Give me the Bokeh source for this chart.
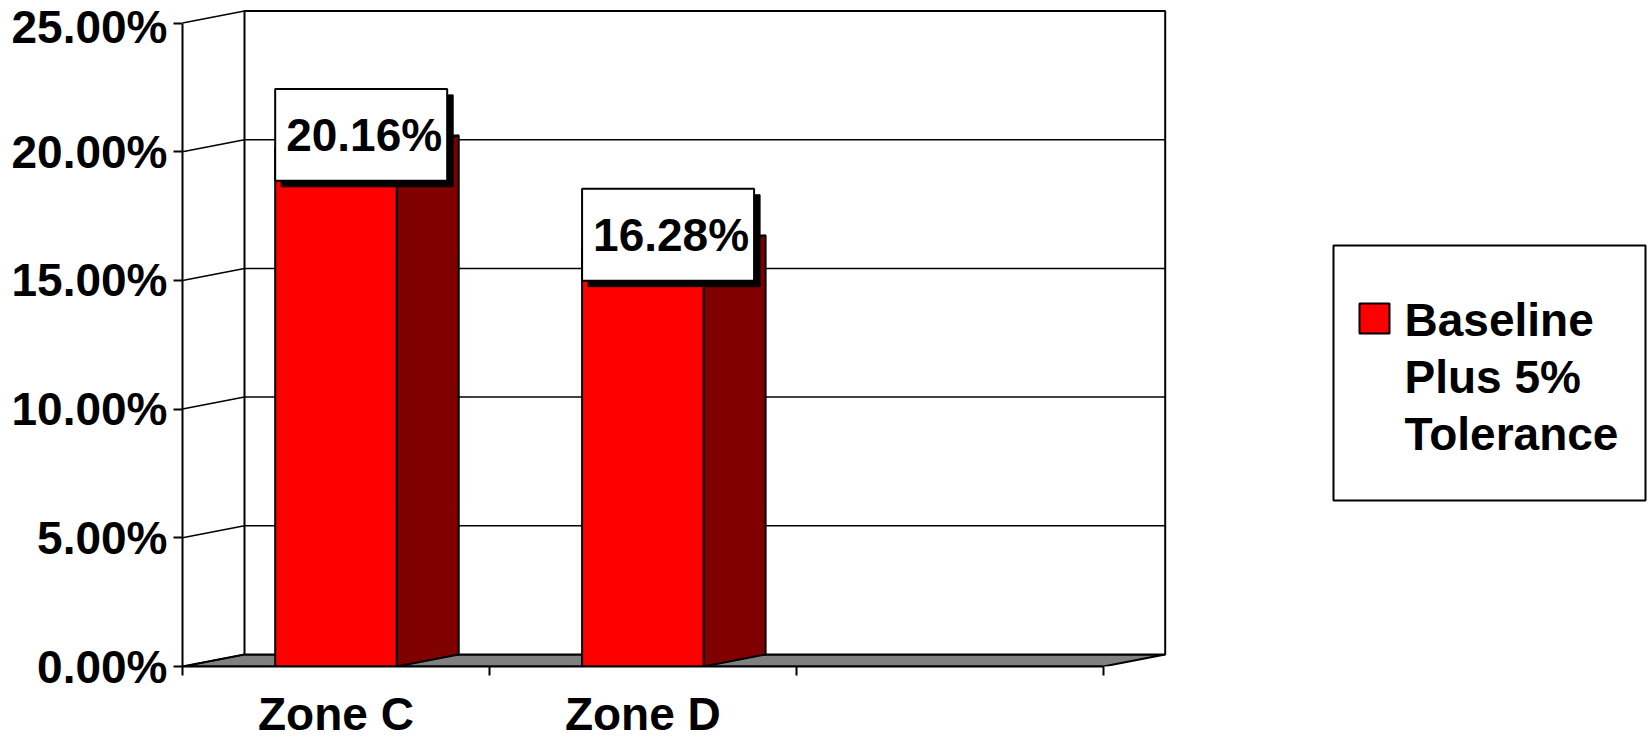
from bokeh.plotting import figure
from bokeh.models import Range1d, FixedTicker, PrintfTickFormatter, ColumnDataSource
from bokeh.core.properties import value
from bokeh.embed import file_html
from bokeh.resources import INLINE

# ---- data -------------------------------------------------------------
categories = ["Zone C", "Zone D", ""]
values = [20.16, 16.28]
series_lines = ["Baseline", "Plus 5%", "Tolerance"]
y_ticks = [0, 5, 10, 15, 20, 25]

# ---- layout constants -------------------------------------------------
FONT = "Liberation Sans"
FS = "46px"
W, H = 1648, 742
LEFT, TOP, BOTTOM = 182, 9, 76
X_PX = 306.9          # pixels per category slot
Y_PX = 25.74          # pixels per percentage point
x_end = (W - LEFT) / X_PX
y_end = (H - TOP - BOTTOM) / Y_PX
DX = 62 / X_PX        # depth offset of the 3-D box (x)
DY = 12 / Y_PX        # depth offset of the 3-D box (y)
BAR_W = 0.396
n = len(categories)


def px_x(px):
    return (px - LEFT) / X_PX


def px_y(py):
    return (H - BOTTOM - py) / Y_PX


p = figure(width=W, height=H, x_range=Range1d(0, x_end), y_range=Range1d(0, y_end),
           output_backend="svg", toolbar_location=None,
           min_border_left=LEFT, min_border_right=0, min_border_top=TOP,
           min_border_bottom=BOTTOM)
p.grid.visible = False
p.outline_line_color = None
p.background_fill_color = "white"

# ---- value axis (front edge) -----------------------------------------
ya = p.yaxis[0]
ya.ticker = FixedTicker(ticks=y_ticks)
ya.formatter = PrintfTickFormatter(format="%.2f%%")
ya.bounds = (0, 25)
ya.axis_line_width = 2
ya.major_tick_line_width = 2
ya.major_tick_out = 9
ya.major_tick_in = 0
ya.minor_tick_out = 0
ya.minor_tick_in = 0
ya.major_label_standoff = 6
ya.major_label_text_font = FONT
ya.major_label_text_font_style = "bold"
ya.major_label_text_font_size = FS
ya.major_label_text_color = "black"

# ---- category axis ----------------------------------------------------
centers = [i + 0.5 for i in range(n)]
xa = p.xaxis[0]
xa.ticker = FixedTicker(ticks=centers, minor_ticks=list(range(n + 1)))
xa.major_label_overrides = {c: lab for c, lab in zip(centers, categories)}
xa.bounds = (0, n)
xa.axis_line_width = 2
xa.major_tick_out = 0
xa.major_tick_in = 0
xa.minor_tick_out = 9
xa.minor_tick_in = 0
xa.minor_tick_line_width = 2
xa.minor_tick_line_color = "black"
xa.major_label_standoff = 12
xa.major_label_text_font = FONT
xa.major_label_text_font_style = "bold"
xa.major_label_text_font_size = FS
xa.major_label_text_color = "black"

# ---- floor, back wall, gridlines -------------------------------------
p.patch(x=[0, n, n + DX, DX], y=[0, 0, DY, DY], fill_color="#808080",
        line_color="black", line_width=2)
p.quad(left=[DX], right=[n + DX], bottom=[DY], top=[25 + DY],
       fill_color="white", line_color="black", line_width=2)
grid = [t for t in y_ticks if 0 < t < 25]
p.segment(x0=[DX] * len(grid), y0=[t + DY for t in grid],
          x1=[n + DX] * len(grid), y1=[t + DY for t in grid],
          line_color="black", line_width=1.5)
p.segment(x0=[0] * len(y_ticks), y0=y_ticks,
          x1=[DX] * len(y_ticks), y1=[t + DY for t in y_ticks],
          line_color="black", line_width=1.5)

# ---- 3-D bars -----------------------------------------------------------
x0 = [centers[i] - BAR_W / 2 for i in range(len(values))]
x1 = [centers[i] + BAR_W / 2 for i in range(len(values))]
bars = ColumnDataSource(dict(
    left=x0, right=x1, top=values,
    side_x=[[b, b + DX, b + DX, b] for b in x1],
    side_y=[[0, DY, v + DY, v] for v in values],
    top_x=[[a, b, b + DX, a + DX] for a, b in zip(x0, x1)],
    top_y=[[v, v, v + DY, v + DY] for v in values],
))
p.patches(xs="side_x", ys="side_y", source=bars, fill_color="#800000",
          line_color="black", line_width=2)
p.patches(xs="top_x", ys="top_y", source=bars, fill_color="#c00000",
          line_color="black", line_width=2)
p.quad(left="left", right="right", bottom=0, top="top", source=bars,
       fill_color="#ff0000", line_color="black", line_width=2)

# ---- value labels ----------------------------------------------------
BOX_W = 172 / X_PX
UP, DOWN = 2.28, 1.29
SX, SY = 6 / X_PX, 6 / Y_PX
p.quad(left=[a + SX for a in x0], right=[a + BOX_W + SX for a in x0],
       bottom=[v - DOWN - SY for v in values], top=[v + UP - SY for v in values],
       fill_color="black", line_color="black")
p.quad(left=x0, right=[a + BOX_W for a in x0],
       bottom=[v - DOWN for v in values], top=[v + UP for v in values],
       fill_color="white", line_color="black", line_width=2)
p.text(x=[a + BOX_W / 2 + 3 / X_PX for a in x0], y=[v + (UP - DOWN) / 2 for v in values],
       text=[f"{v:.2f}%" for v in values], text_align="center",
       text_baseline="middle", text_font=value(FONT), text_font_style="bold",
       text_font_size=FS, text_color="black")

# ---- legend ------------------------------------------------------------
p.quad(left=[px_x(1333)], right=[px_x(1645)], bottom=[px_y(500)], top=[px_y(245)],
       fill_color="white", line_color="black", line_width=2)
p.quad(left=[px_x(1359)], right=[px_x(1389)], bottom=[px_y(333)], top=[px_y(303)],
       fill_color="#ff0000", line_color="black", line_width=2)
p.text(x=[px_x(1404)] * 3, y=[px_y(319 + 57 * i) for i in range(3)],
       text=series_lines, text_align="left", text_baseline="middle",
       text_font=value(FONT), text_font_style="bold", text_font_size=FS,
       text_color="black")

open("out.html", "w").write(file_html(p, INLINE))
